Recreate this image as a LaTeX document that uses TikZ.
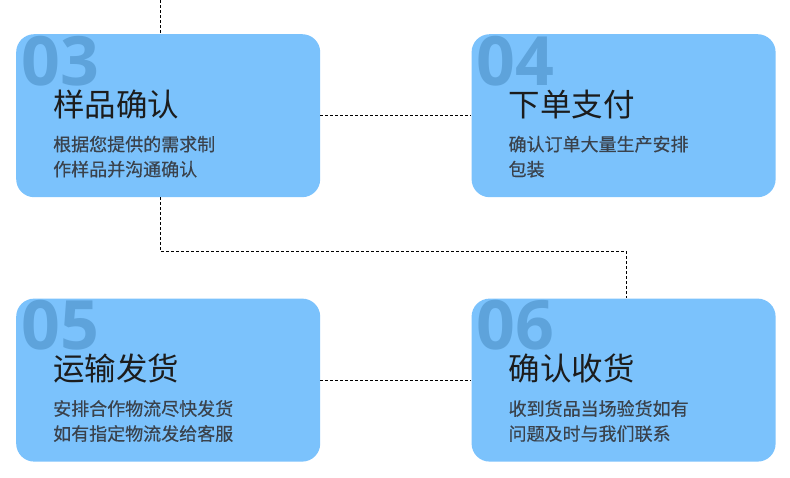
\documentclass[tikz,border=0pt]{standalone}
\usepackage{fontspec}
\setmainfont{Noto Sans CJK SC}
\newfontfamily\numfont{Open Sans}
\newfontfamily\descfont{Noto Sans CJK SC}[FakeBold=0.4]
\usetikzlibrary{positioning}
\definecolor{cardblue}{RGB}{123,194,252}
\definecolor{numblue}{RGB}{94,163,219}
\definecolor{titlegray}{RGB}{28,28,28}
\definecolor{textgray}{RGB}{58,66,76}

\begin{document}
\begin{tikzpicture}[x=1pt, y=-1pt,
    card/.style={rectangle, fill=cardblue, rounded corners=18pt, minimum width=304pt, minimum height=163pt, inner sep=0pt},
    num/.style={anchor=base west, inner sep=0pt, text=numblue, font=\numfont\bfseries\fontsize{68}{68}\selectfont},
    title/.style={anchor=base west, inner sep=0pt, text=titlegray, font=\fontsize{31.5}{31.5}\selectfont},
    desc/.style={anchor=base west, inner sep=0pt, text=textgray, align=left, font=\descfont\fontsize{18}{25}\selectfont},
    link/.style={draw=black, line width=1pt, dash pattern=on 3pt off 2pt}]
        \useasboundingbox (0,0) rectangle (790,477);

        \node[card, anchor=north west] (b03) at (16,34) {};
        \node[card, right=151pt of b03] (b04) {};
        \node[card, below=101pt of b03] (b05) {};
        \node[card, right=151pt of b05] (b06) {};

        % Big step numbers
        \node[num] (n03) at ([shift={(5pt,-51pt)}]b03.north west) {03};
        \node[num] (n04) at ([shift={(5pt,-51pt)}]b04.north west) {04};
        \node[num] (n05) at ([shift={(5pt,-51pt)}]b05.north west) {05};
        \node[num] (n06) at ([shift={(5pt,-51pt)}]b06.north west) {06};

        % Titles
        \node[title] (t03) at ([shift={(37pt,-82pt)}]b03.north west) {样品确认};
        \node[title] (t04) at ([shift={(37pt,-82pt)}]b04.north west) {下单支付};
        \node[title] (t05) at ([shift={(37pt,-82pt)}]b05.north west) {运输发货};
        \node[title] (t06) at ([shift={(37pt,-82pt)}]b06.north west) {确认收货};

        % Descriptions (base = last line)
        \node[desc] (d03) at ([shift={(37pt,-142pt)}]b03.north west) {根据您提供的需求制\\作样品并沟通确认};
        \node[desc] (d04) at ([shift={(37pt,-142pt)}]b04.north west) {确认订单大量生产安排\\包装};
        \node[desc] (d05) at ([shift={(37pt,-142pt)}]b05.north west) {安排合作物流尽快发货\\如有指定物流发给客服};
        \node[desc] (d06) at ([shift={(37pt,-142pt)}]b06.north west) {收到货品当场验货如有\\问题及时与我们联系};

        % Dashed links
        \coordinate (top) at (160,0);
        \coordinate (turn) at (160,251);
        \coordinate (drop) at (626,251);
        \draw[link] (top) -- (top |- b03.north);
        \draw[link] (b03.south -| turn) -- (turn) -- (drop) -- (drop |- b06.north);
        \draw[link] (b03.east) -- (b04.west);
        \draw[link] (b05.east) -- (b06.west);
\end{tikzpicture}
\end{document}
